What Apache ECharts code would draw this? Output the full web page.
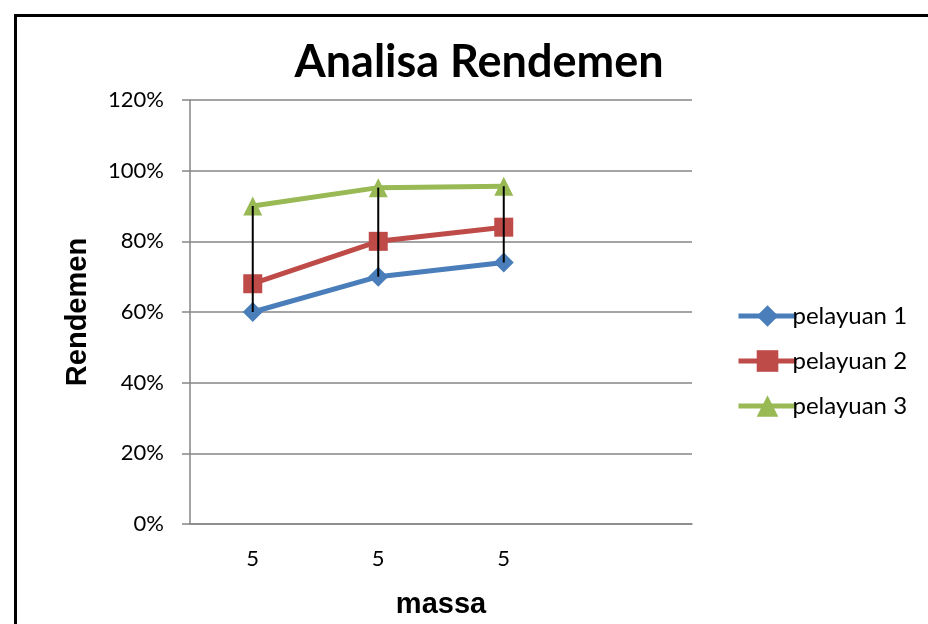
<!DOCTYPE html>
<html><head><meta charset="utf-8">
<script src="https://cdn.jsdelivr.net/npm/echarts@6/dist/echarts.min.js"></script>
<style>html,body{margin:0;padding:0;background:#fff}#c{width:928px;height:624px}</style>
</head><body><div id="c"></div>
<script>
var categories = ['5', '5', '5', ''];
var pelayuan1 = [60, 70, 74];
var pelayuan2 = [68, 80, 84];
var pelayuan3 = [90, 95.2, 95.6];
var yTicks = [0, 20, 40, 60, 80, 100, 120];

var chart = echarts.init(document.getElementById('c'));
var bodyFont = 'Lato, "Open Sans", sans-serif';
var lowHigh = pelayuan1.map(function (v, i) { return [i, v, pelayuan3[i]]; });

chart.setOption({
  animation: false,
  backgroundColor: '#fff',
  graphic: [{
    type: 'rect', left: 13, top: 13, z: 100,
    shape: { width: 940, height: 640 },
    style: { fill: 'none', stroke: '#000', lineWidth: 3 }
  }],
  title: {
    text: 'Analisa Rendemen', left: 474, top: 35, textAlign: 'center',
    textStyle: { fontFamily: bodyFont, fontWeight: 'bold', fontSize: 45, color: '#000' }
  },
  grid: { left: 190, right: 236, top: 100, bottom: 98 },
  legend: {
    orient: 'vertical', left: 731, top: 299, itemGap: 21, itemWidth: 58, itemHeight: 27,
    data: ['pelayuan 1', 'pelayuan 2', 'pelayuan 3'],
    lineStyle: { width: 5 },
    textStyle: { fontFamily: bodyFont, fontSize: 24, color: '#000', padding: [0, 0, 0, -9] }
  },
  xAxis: {
    type: 'category', data: categories, boundaryGap: true,
    name: 'massa', nameLocation: 'middle', nameGap: 66,
    nameTextStyle: { fontFamily: 'Liberation Sans, Arial', fontWeight: 'bold', fontSize: 29, color: '#000' },
    axisLine: { lineStyle: { color: '#868686', width: 1.5 } },
    axisTick: { show: false },
    axisLabel: { fontFamily: bodyFont, fontSize: 22, color: '#000', margin: 24 }
  },
  yAxis: {
    type: 'value', min: 0, max: 120, interval: 20,
    name: 'Rendemen', nameLocation: 'middle', nameGap: 98, nameRotate: 90,
    nameTextStyle: { fontFamily: 'Liberation Sans, Arial', fontWeight: 'bold', fontSize: 29, color: '#000' },
    axisLine: { show: true, lineStyle: { color: '#868686', width: 1.5 } },
    axisTick: { show: true, length: 8, lineStyle: { color: '#868686', width: 1.5 } },
    splitLine: { lineStyle: { color: '#868686', width: 1.5 } },
    axisLabel: {
      fontFamily: bodyFont, fontSize: 22, color: '#000', margin: 26,
      formatter: function (v) { return yTicks.indexOf(v) >= 0 ? v + '%' : ''; }
    }
  },
  series: [
    {
      type: 'custom', name: 'hl', silent: true, z: 5,
      data: lowHigh,
      renderItem: function (params, api) {
        var a = api.coord([api.value(0), api.value(1)]);
        var b = api.coord([api.value(0), api.value(2)]);
        return { type: 'line', shape: { x1: a[0], y1: a[1], x2: b[0], y2: b[1] },
                 style: { stroke: '#000', lineWidth: 2 } };
      }
    },
    {
      name: 'pelayuan 1', type: 'line', data: pelayuan1, z: 2,
      symbol: 'diamond', symbolSize: 20,
      lineStyle: { color: '#4A7EBB', width: 5 }, itemStyle: { color: '#4A7EBB' }
    },
    {
      name: 'pelayuan 2', type: 'line', data: pelayuan2, z: 2,
      symbol: 'rect', symbolSize: 19,
      lineStyle: { color: '#BE4B48', width: 5 }, itemStyle: { color: '#BE4B48' }
    },
    {
      name: 'pelayuan 3', type: 'line', data: pelayuan3, z: 2,
      symbol: 'triangle', symbolSize: 19,
      lineStyle: { color: '#98B954', width: 5 }, itemStyle: { color: '#98B954' }
    }
  ]
});
</script></body></html>
